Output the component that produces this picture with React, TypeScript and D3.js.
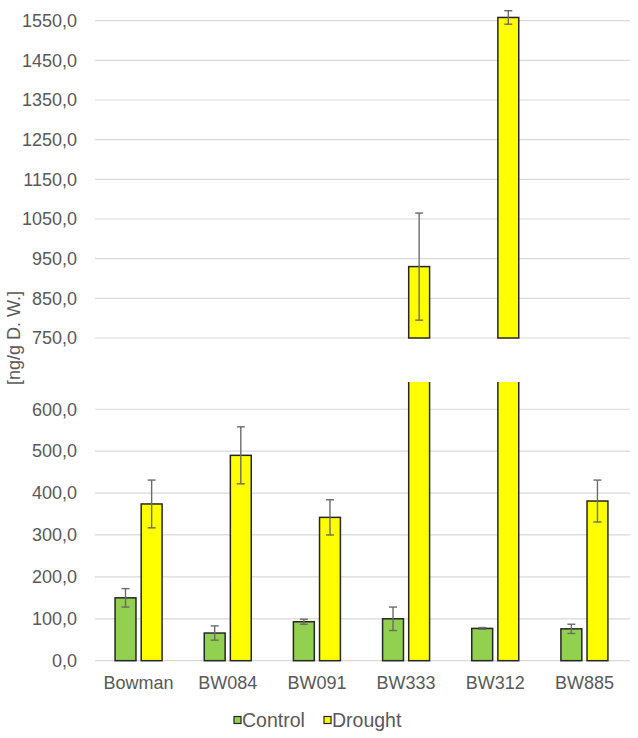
import * as d3 from 'd3';

const categories = ['Bowman', 'BW084', 'BW091', 'BW333', 'BW312', 'BW885'];
const seriesNames = ['Control', 'Drought'];
const controlValues = [150, 66, 93, 100, 77, 76];
const controlErrors = [22, 17, 6, 28, 2, 11];
const droughtValues = [374, 490, 342, 930, 1558, 381];
const droughtErrors = [57, 68, 42, 135, 17, 50];
const lowerTicks = [0, 100, 200, 300, 400, 500, 600];
const upperTicks = [750, 850, 950, 1050, 1150, 1250, 1350, 1450, 1550];

const W = 638;
const H = 738;
const FONT = '"Liberation Sans", Arial, sans-serif';
const TEXT = '#595959';
const GRID = '#d9d9d9';
const COLORS: Record<string, string> = { Control: '#92d050', Drought: '#ffff00' };

const fmt = (v: number) => d3.format('.1f')(v).replace('.', ',');

export default function App() {
  const plotLeft = 95;
  const plotRight = 630;

  const x = d3.scaleBand().domain(categories).range([plotLeft - 1, plotRight - 1]).padding(0);
  const xSub = d3.scaleBand().domain(seriesNames).range([-23.5, 23.5]).paddingInner(0.2);

  // broken axis: two panels
  const yLow = d3.scaleLinear().domain([0, 665]).range([660.7, 382]);
  const yHigh = d3.scaleLinear().domain([750, 1600]).range([338, 0.8]);

  const rows = categories.map((c, i) => [
    { cat: c, s: 'Control', v: controlValues[i], e: controlErrors[i] },
    { cat: c, s: 'Drought', v: droughtValues[i], e: droughtErrors[i] },
  ]).flat();

  const bw = xSub.bandwidth();
  const barX = (d: any) => (x(d.cat) as number) + x.bandwidth() / 2 + (xSub(d.s) as number);

  const errBar = (d: any, y: d3.ScaleLinear<number, number>) => {
    const cx = barX(d) + bw / 2;
    const y1 = y(d.v + d.e);
    const y2 = y(d.v - d.e);
    return (
      <g key={`e-${d.cat}-${d.s}`} stroke="#6b6b6b" strokeWidth={1.4}>
        <line x1={cx} x2={cx} y1={y1} y2={y2} />
        <line x1={cx - 4} x2={cx + 4} y1={y1} y2={y1} />
        <line x1={cx - 4} x2={cx + 4} y1={y2} y2={y2} />
      </g>
    );
  };

  const lowTop = yLow.range()[1];
  const highBase = yHigh(750);

  return (
    <svg width={W} height={H} style={{ position: 'absolute', left: 0, top: 0 }} fontFamily={FONT}>
      <rect width={W} height={H} fill="#fff" />
      <defs>
        <clipPath id="lowClip">
          <rect x={0} y={lowTop} width={W} height={H - lowTop} />
        </clipPath>
      </defs>

      {/* upper panel grid */}
      {upperTicks.map((t) => (
        <g key={`u${t}`}>
          <line x1={plotLeft} x2={plotRight} y1={yHigh(t)} y2={yHigh(t)} stroke={GRID} strokeWidth={1.2} />
          <text x={77} y={yHigh(t)} dy="0.35em" textAnchor="end" fontSize={18} fill={TEXT}>{fmt(t)}</text>
        </g>
      ))}

      {/* lower panel grid */}
      {lowerTicks.map((t) => (
        <g key={`l${t}`}>
          <line x1={plotLeft} x2={plotRight} y1={yLow(t)} y2={yLow(t)} stroke={GRID} strokeWidth={1.2} />
          <text x={77} y={yLow(t)} dy="0.35em" textAnchor="end" fontSize={18} fill={TEXT}>{fmt(t)}</text>
        </g>
      ))}

      {/* lower bars */}
      <g clipPath="url(#lowClip)">
        {rows.map((d) => (
          <rect key={`lb-${d.cat}-${d.s}`} x={barX(d)} y={yLow(Math.min(d.v, 700))} width={bw}
            height={yLow(0) - yLow(Math.min(d.v, 700))} fill={COLORS[d.s]} stroke="#262626" strokeWidth={1.5} />
        ))}
      </g>
      {rows.filter((d) => d.v < 665).map((d) => errBar(d, yLow))}

      {/* upper bars */}
      {rows.filter((d) => d.v > 750).map((d) => (
        <rect key={`ub-${d.cat}-${d.s}`} x={barX(d)} y={yHigh(d.v)} width={bw}
          height={highBase - yHigh(d.v)} fill={COLORS[d.s]} stroke="#262626" strokeWidth={1.5} />
      ))}
      {rows.filter((d) => d.v > 750).map((d) => errBar(d, yHigh))}

      {/* category labels */}
      {categories.map((c) => (
        <text key={c} x={(x(c) as number) + x.bandwidth() / 2} y={689} textAnchor="middle" fontSize={18} fill={TEXT}>{c}</text>
      ))}

      {/* y label */}
      <text transform={`translate(20,338) rotate(-90)`} textAnchor="middle" fontSize={18} fill={TEXT}>[ng/g D. W.]</text>

      {/* legend */}
      {seriesNames.map((s, i) => {
        const lx = i === 0 ? 234 : 324;
        return (
          <g key={s}>
            <rect x={lx} y={716.5} width={7} height={7} fill={COLORS[s]} stroke="#262626" strokeWidth={1.2} />
            <text x={lx + 8} y={720.5} dy="0.35em" fontSize={19.5} fill={TEXT}>{s}</text>
          </g>
        );
      })}
    </svg>
  );
}
